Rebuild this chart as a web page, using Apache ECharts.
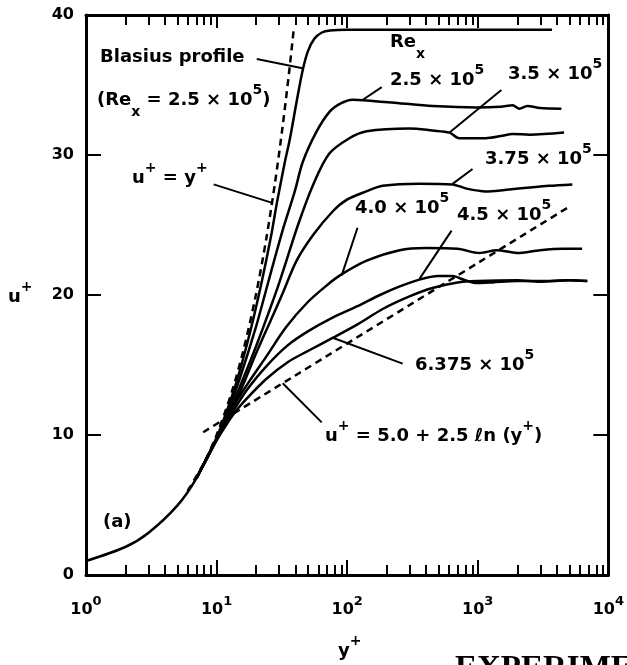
<!DOCTYPE html>
<html>
<head>
<meta charset="utf-8">
<script src="https://cdn.jsdelivr.net/npm/echarts@6/dist/echarts.min.js"></script>
<style>
html, body { margin: 0; padding: 0; background: #fff; }
#chart { width: 627px; height: 665px; }
</style>
</head>
<body>
<div id="chart"></div>
<script>
// data, pairs are [y+, u+]
var blasius = [[1,1.0],[2,2.0],[3,3.0],[5,4.95],[7,6.9],[10,9.8],[14,13.6],[18,17.3],[22,20.8],[26,24.1],[29,26.6],[33,29.3],[36.5,31.2],[41,33.8],[45.5,36.0],[50,37.4],[56,38.3],[64,38.75],[74,38.9],[100,38.95],[3700,38.95]];
var re25 = [[7,6.9],[10,9.75],[12,11.5],[15,14.0],[20,17.7],[25,21.0],[32,24.6],[39.7,27.4],[45.7,29.5],[58.5,31.7],[73.5,33.1],[90,33.7],[110,33.95],[141,33.9],[250,33.7],[450,33.5],[980,33.4],[1500,33.45],[1850,33.55],[2080,33.3],[2400,33.5],[3000,33.35],[4370,33.3]];
var re35 = [[7,6.9],[10,9.7],[12,11.3],[15,13.4],[20,16.3],[30,20.8],[42,25.0],[55,27.9],[73,30.1],[104,31.2],[141,31.7],[300,31.9],[450,31.75],[607,31.6],[720,31.2],[1150,31.2],[1500,31.35],[1850,31.5],[2500,31.45],[4580,31.6]];
var re375 = [[7,6.9],[10,9.7],[12,11.2],[15,13.0],[20,15.8],[26,18.2],[32,20.1],[41,22.45],[55,24.3],[78,26.0],[99,26.8],[140,27.4],[187,27.8],[357,27.95],[640,27.9],[820,27.6],[1150,27.4],[1600,27.5],[2640,27.7],[3500,27.8],[5300,27.9]];
var re40 = [[7,6.9],[10,9.7],[12,11.1],[14,12.3],[18,13.9],[24,15.6],[34,17.7],[50,19.5],[70,20.7],[88,21.4],[141,22.45],[252,23.2],[400,23.35],[700,23.3],[1030,23.0],[1400,23.2],[2000,23.0],[3000,23.2],[4500,23.3],[6300,23.3]];
var re45 = [[7,6.9],[10,9.7],[12,11.0],[14,12.0],[17,13.2],[24,14.9],[35,16.4],[50,17.4],[78,18.4],[120,19.2],[178,20.0],[250,20.6],[357,21.1],[500,21.35],[640,21.35],[800,21.05],[1000,20.85],[1300,20.9],[2000,21.0],[3000,21.0],[5000,21.05],[6900,21.0]];
var re6375 = [[7,6.9],[10,9.6],[12,10.8],[14,11.7],[17,12.6],[24,14.0],[35,15.2],[50,16.0],[78,16.95],[120,17.9],[187,19.0],[300,19.9],[450,20.5],[700,20.9],[1000,21.0],[2000,21.05],[3000,20.95],[5000,21.05],[6900,21.0]];
var linearLaw = [[6,6],[8,8],[10,10],[13,13],[16,16],[20,20],[24,24],[28,28],[32,32],[36,36],[39,39]];
var logLaw = [[7.9,10.2],[5000,26.3]];

// leader lines, label end -> curve
var leaders = [
  [[20.3,36.85],[45.5,36.2]],
  [[9.5,27.9],[26.3,26.6]],
  [[184,34.85],[131,33.93]],
  [[1516,34.64],[608,31.6]],
  [[912,29.0],[641,27.94]],
  [[120,24.8],[90.8,21.4]],
  [[630,24.6],[358,21.15]],
  [[266,15.1],[77.4,16.95]],
  [[32.1,13.7],[63.8,10.9]]
];

var xMajor = [1,10,100,1000,10000];
var xMinor = [2,3,4,5,6,7,8,9,20,30,40,50,60,70,80,90,200,300,400,500,600,700,800,900,2000,3000,4000,5000,6000,7000,8000,9000];
var yMin = 0, yMax = 40, yStep = 10;

var F = 'DejaVu Sans';
var rich = {
  b: { fontFamily: F, fontWeight: 'bold', fontSize: 18, verticalAlign: 'middle' },
  p: { fontFamily: F, fontWeight: 'bold', fontSize: 14, verticalAlign: 'middle', padding: [0,0,20,0] },
  d: { fontFamily: F, fontWeight: 'bold', fontSize: 14, verticalAlign: 'middle', padding: [24,0,0,0] }
};
function label(x, y, s) {
  return { type: 'text', x: x, y: y, silent: true,
    style: { text: s, rich: rich, fill: '#000', align: 'left', verticalAlign: 'middle' } };
}

var gridBox = { left: 86, right: 18, top: 15, bottom: 90 };
var frame = { show: true, onZero: false, lineStyle: { color: '#000', width: 3 } };

function xAx(grid, pos, ticks, len, withLine, withLabel) {
  return {
    type: 'log', logBase: 10, min: 1, max: 10000, gridIndex: grid, position: pos,
    axisLine: withLine ? frame : { show: false },
    axisTick: { show: true, inside: true, length: len, customValues: ticks, lineStyle: { color: '#000', width: 2 } },
    axisLabel: withLabel ? {
      customValues: xMajor, margin: 20, color: '#000',
      formatter: function (v) { return '{b|10}{s|' + Math.round(Math.log10(v)) + '}'; },
      rich: {
        b: { fontFamily: F, fontWeight: 'bold', fontSize: 16, verticalAlign: 'middle' },
        s: { fontFamily: F, fontWeight: 'bold', fontSize: 13, verticalAlign: 'middle', padding: [0,0,16,0] }
      }
    } : { show: false },
    splitLine: { show: false }
  };
}

function curve(d) {
  return { type: 'line', data: d, showSymbol: false, smooth: 0.3, xAxisIndex: 0, yAxisIndex: 0,
    lineStyle: { color: '#000', width: 2.5 } };
}
function dashed(d) {
  return { type: 'line', data: d, showSymbol: false, smooth: 0.3, xAxisIndex: 0, yAxisIndex: 0,
    lineStyle: { color: '#000', width: 2.5, type: [7, 5] } };
}

var series = [blasius, re25, re35, re375, re40, re45, re6375].map(curve);
series.push(dashed(linearLaw));
series.push(dashed(logLaw));
series[0].markLine = {
  silent: true, symbol: ['none', 'none'], animation: false,
  label: { show: false },
  lineStyle: { color: '#000', width: 2, type: 'solid' },
  data: leaders.map(function (l) { return [{ coord: l[0] }, { coord: l[1] }]; })
};

var option = {
  animation: false,
  backgroundColor: '#fff',
  grid: [gridBox, gridBox],
  xAxis: [
    xAx(0, 'bottom', xMajor, 15, true, true),
    xAx(0, 'top', xMajor, 13, true, false),
    xAx(1, 'bottom', xMinor, 10, false, false),
    xAx(1, 'top', xMinor, 10, false, false)
  ],
  yAxis: [
    { type: 'value', min: yMin, max: yMax, interval: yStep, gridIndex: 0, position: 'left',
      axisLine: frame,
      axisTick: { inside: true, length: 15, lineStyle: { color: '#000', width: 2 } },
      axisLabel: { margin: 12, color: '#000', fontFamily: F, fontWeight: 'bold', fontSize: 16 },
      splitLine: { show: false } },
    { type: 'value', min: yMin, max: yMax, interval: yStep, gridIndex: 0, position: 'right',
      axisLine: frame,
      axisTick: { inside: true, length: 15, lineStyle: { color: '#000', width: 2 } },
      axisLabel: { show: false }, splitLine: { show: false } },
    { type: 'value', min: yMin, max: yMax, gridIndex: 1, show: false }
  ],
  series: series,
  graphic: [
    label(100, 57, '{b|Blasius profile}'),
    label(97, 100, '{b|(Re}{d|x}{b| = 2.5 × 10}{p|5}{b|)}'),
    label(132, 178, '{b|u}{p|+}{b| = y}{p|+}'),
    label(390, 42, '{b|Re}{d|x}'),
    label(390, 80, '{b|2.5 × 10}{p|5}'),
    label(508, 74, '{b|3.5 × 10}{p|5}'),
    label(485, 159, '{b|3.75 × 10}{p|5}'),
    label(355, 208, '{b|4.0 × 10}{p|5}'),
    label(457, 215, '{b|4.5 × 10}{p|5}'),
    label(415, 365, '{b|6.375 × 10}{p|5}'),
    label(325, 436, '{b|u}{p|+}{b| = 5.0 + 2.5 ℓn (y}{p|+}{b|)}'),
    label(103, 522, '{b|(a)}'),
    label(8, 297, '{b|u}{p|+}'),
    label(338, 651, '{b|y}{p|+}'),
    { type: 'text', x: 455, y: 653, silent: true,
      style: { text: 'EXPERIMENTAL', fill: '#000', font: 'bold 33px "Liberation Serif"', verticalAlign: 'top' } }
  ]
};

var chart = echarts.init(document.getElementById('chart'));
chart.setOption(option);
</script>
</body>
</html>
